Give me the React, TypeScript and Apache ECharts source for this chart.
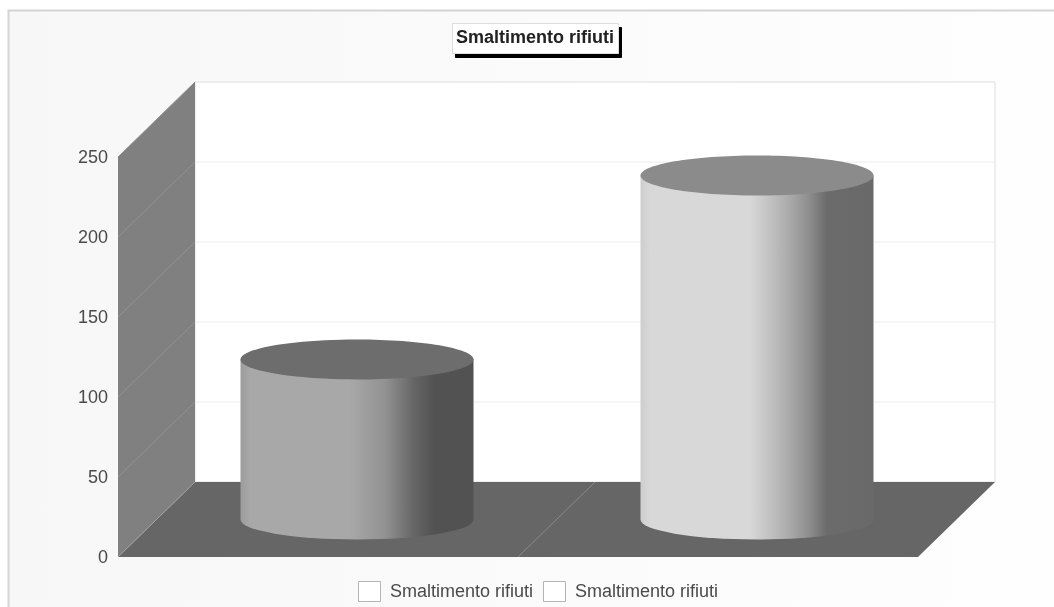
import React, { useEffect, useRef } from "react";
import * as echarts from "echarts";

const chartTitle = "Smaltimento rifiuti";
const categories = ["Smaltimento rifiuti A", "Smaltimento rifiuti B"];
const wasteValues = [100, 215];
const legendLabels = ["Smaltimento rifiuti", "Smaltimento rifiuti"];
const yTicks = [0, 50, 100, 150, 200, 250];

// Depth of the pseudo-3D box, in pixels.
const DEPTH_X = 77;
const DEPTH_Y = 75;
const CYL_WIDTH = 233;
const CYL_RY = 20;

const bodyShades = [
  [
    [0, "#9c9c9c"],
    [0.04, "#a8a8a8"],
    [0.47, "#a8a8a8"],
    [0.62, "#929292"],
    [0.74, "#676767"],
    [0.83, "#525252"],
    [1, "#525252"],
  ],
  [
    [0, "#cdcdcd"],
    [0.04, "#d8d8d8"],
    [0.47, "#d8d8d8"],
    [0.62, "#b0b0b0"],
    [0.72, "#8f8f8f"],
    [0.8, "#6b6b6b"],
    [1, "#696969"],
  ],
];
const capShades = ["#6d6d6d", "#8b8b8b"];

function renderBox(params: any, api: any) {
  const g = params.coordSys;
  const left = g.x;
  const right = g.x + g.width;
  const top = g.y;
  const bottom = g.y + g.height;
  return {
    type: "group",
    silent: true,
    children: [
      {
        type: "rect",
        shape: { x: left + DEPTH_X, y: top - DEPTH_Y, width: g.width, height: g.height },
        style: { fill: "#ffffff", stroke: "#dedede", lineWidth: 1 },
      },
      {
        type: "polygon",
        shape: {
          points: [
            [left, top],
            [left + DEPTH_X, top - DEPTH_Y],
            [left + DEPTH_X, bottom - DEPTH_Y],
            [left, bottom],
          ],
        },
        style: { fill: "#808080" },
      },
      {
        type: "polygon",
        shape: {
          points: [
            [left, bottom],
            [left + DEPTH_X, bottom - DEPTH_Y],
            [right + DEPTH_X, bottom - DEPTH_Y],
            [right, bottom],
          ],
        },
        style: { fill: "#666666" },
      },
    ],
  };
}

// One horizontal rule per value tick: across the back wall and down the side wall.
function renderGridline(params: any, api: any) {
  const g = params.coordSys;
  const y = api.coord([0, api.value(0)])[1];
  if (api.value(0) === 0) {
    return {
      type: "line",
      silent: true,
      shape: { x1: g.x, y1: y, x2: g.x + DEPTH_X, y2: y - DEPTH_Y },
      style: { stroke: "#a0a0a0", lineWidth: 1 },
    };
  }
  return {
    type: "group",
    silent: true,
    children: [
      {
        type: "line",
        shape: { x1: g.x + DEPTH_X, y1: y - DEPTH_Y, x2: g.x + g.width + DEPTH_X, y2: y - DEPTH_Y },
        style: { stroke: "#ececec", lineWidth: 1 },
      },
      {
        type: "line",
        shape: { x1: g.x, y1: y, x2: g.x + DEPTH_X, y2: y - DEPTH_Y },
        style: { stroke: "#929292", lineWidth: 1 },
      },
    ],
  };
}

// Divider between the two categories across the floor.
function renderDivider(params: any, api: any) {
  const g = params.coordSys;
  const x = g.x + g.width / 2;
  const y = g.y + g.height;
  return {
    type: "line",
    silent: true,
    shape: { x1: x, y1: y, x2: x + DEPTH_X, y2: y - DEPTH_Y },
    style: { stroke: "#8a8a8a", lineWidth: 1 },
  };
}

function renderCylinder(params: any, api: any) {
  const i = api.value(0);
  const topPt = api.coord([i, api.value(1)]);
  const basePt = api.coord([i, 0]);
  const cx = topPt[0] + DEPTH_X / 2 + 0.5;
  const topY = topPt[1] - DEPTH_Y / 2;
  const baseY = basePt[1] - DEPTH_Y / 2;
  const rx = CYL_WIDTH / 2;
  const l = cx - rx;
  const r = cx + rx;
  const stops = bodyShades[i].map(([offset, color]) => ({ offset, color }));
  return {
    type: "group",
    silent: true,
    children: [
      {
        type: "path",
        shape: {
          pathData: `M${l} ${topY}L${l} ${baseY}A${rx} ${CYL_RY} 0 0 0 ${r} ${baseY}L${r} ${topY}Z`,
        },
        style: { fill: new echarts.graphic.LinearGradient(0, 0, 1, 0, stops as any) },
      },
      {
        type: "ellipse",
        shape: { cx, cy: topY, rx, ry: CYL_RY },
        style: { fill: capShades[i] },
      },
    ],
  };
}

export default function App() {
  const ref = useRef<HTMLDivElement>(null);

  useEffect(() => {
    const chart = echarts.init(ref.current!, undefined, { renderer: "svg" });
    const font = "'Liberation Sans', Arial, sans-serif";
    const legendChildren: any[] = [];
    const legendBoxes = [358, 543];
    legendLabels.forEach((label, k) => {
      legendChildren.push({
        type: "rect",
        shape: { x: legendBoxes[k] + 0.5, y: 581.5, width: 22, height: 20 },
        style: { fill: "#ffffff", stroke: "#b4b4b4", lineWidth: 1 },
      });
      legendChildren.push({
        type: "text",
        x: legendBoxes[k] + 32,
        y: 590.5,
        style: {
          text: label,
          fill: "#4a4a4a",
          font: `18px ${font}`,
          textVerticalAlign: "middle",
        },
      });
    });

    chart.setOption({
      animation: false,
      title: {
        text: chartTitle,
        left: 452,
        top: 23,
        padding: [4, 5, 7, 4],
        backgroundColor: "#ffffff",
        borderColor: "#dddddd",
        borderWidth: 1,
        shadowColor: "#000000",
        shadowBlur: 0,
        shadowOffsetX: 3,
        shadowOffsetY: 4,
        textStyle: { fontFamily: font, fontSize: 18, fontWeight: "bold", color: "#222222", lineHeight: 20 },
      },
      graphic: [
        {
          type: "rect",
          z: -10,
          silent: true,
          shape: { x: 8.5, y: 10.5, width: 1060, height: 610 },
          style: {
            fill: new echarts.graphic.LinearGradient(0, 0, 1, 0, [
              { offset: 0, color: "#f7f7f7" },
              { offset: 1, color: "#fefefe" },
            ]),
            stroke: "#d4d4d4",
            lineWidth: 2,
          },
        },
        ...legendChildren,
      ],
      grid: { left: 118, top: 157, width: 800, height: 400 },
      xAxis: {
        type: "category",
        data: categories,
        axisLine: { show: false },
        axisTick: { show: false },
        axisLabel: { show: false },
        splitLine: { show: false },
      },
      yAxis: {
        type: "value",
        min: 0,
        max: 250,
        interval: 50,
        axisLine: { show: false },
        axisTick: { show: false },
        splitLine: { show: false },
        axisLabel: { margin: 10, fontFamily: font, fontSize: 18, color: "#4a4a4a" },
      },
      series: [
        { type: "custom", z: 1, clip: false, renderItem: renderBox, data: [0], encode: { x: 0, y: 0 } },
        {
          type: "custom",
          z: 2,
          clip: false,
          renderItem: renderGridline,
          data: yTicks.map((t) => [t]),
          encode: { y: 0 },
        },
        { type: "custom", z: 2, clip: false, renderItem: renderDivider, data: [0], encode: { x: 0, y: 0 } },
        {
          type: "custom",
          z: 3,
          clip: false,
          renderItem: renderCylinder,
          data: wasteValues.map((v, i) => [i, v]),
          encode: { x: 0, y: 1 },
        },
      ],
    });
    return () => chart.dispose();
  }, []);

  return <div ref={ref} style={{ position: "fixed", left: 0, top: 0, width: 1054, height: 607 }} />;
}
